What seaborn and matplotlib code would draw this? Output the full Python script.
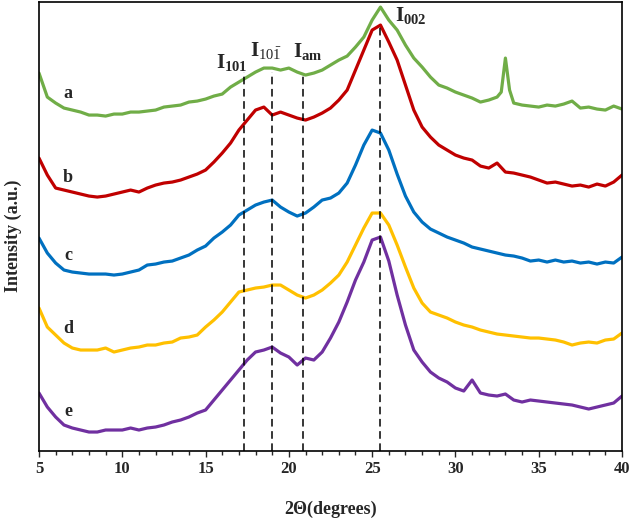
import numpy as np
import pandas as pd
import seaborn as sns
import matplotlib.pyplot as plt

# 2-theta grid (degrees), 0.5 deg steps
two_theta = np.arange(5.0, 40.01, 0.5)
# sample a has a narrow extra peak at 33 deg, so it gets a few extra points
two_theta_a = np.concatenate([np.arange(5.0, 32.51, 0.5), [32.75, 33.0, 33.25], np.arange(33.5, 40.01, 0.5)])

# intensities (a.u., stacked as in the figure)
int_a = [378, 354, 348, 343, 341, 339, 336, 336, 335, 337, 337, 339, 339, 340, 341, 344,
         345, 346, 349, 350, 352, 355, 357, 364, 369, 374, 379, 383, 383, 381, 383, 379,
         376, 378, 381, 386, 391, 395, 404, 414, 431, 444, 431, 421, 406, 393, 384, 374,
         366, 363, 359, 356, 353, 349, 351, 354, 359, 393, 361, 348, 346, 345, 344, 346,
         345, 347, 350, 343, 344, 342, 341, 345, 342]
int_b = [293, 276, 263, 261, 259, 257, 255, 254, 255, 257, 259, 261, 259, 263, 266, 268,
         269, 271, 274, 277, 281, 289, 298, 308, 321, 331, 341, 344, 336, 339, 336, 333,
         331, 334, 338, 343, 351, 361, 381, 401, 421, 426, 409, 391, 366, 341, 324, 314,
         306, 301, 296, 293, 291, 285, 283, 288, 279, 278, 276, 274, 271, 268, 269, 267,
         265, 266, 264, 267, 265, 269, 276]
int_c = [213, 198, 188, 181, 179, 178, 177, 177, 177, 176, 177, 179, 181, 186, 187, 189,
         190, 193, 196, 201, 205, 213, 219, 226, 236, 241, 246, 249, 251, 244, 239, 235,
         238, 244, 251, 253, 258, 268, 286, 306, 321, 318, 301, 277, 255, 239, 229, 222,
         218, 214, 211, 208, 204, 202, 200, 198, 196, 195, 193, 190, 191, 189, 191, 189,
         190, 188, 189, 187, 189, 188, 194]
int_d = [143, 124, 116, 108, 103, 101, 101, 101, 103, 99, 101, 103, 104, 106, 106, 108,
         109, 113, 114, 116, 124, 131, 139, 149, 159, 161, 163, 164, 166, 166, 161, 156,
         153, 156, 161, 168, 176, 189, 206, 223, 238, 238, 226, 206, 184, 163, 148, 139,
         136, 133, 129, 126, 124, 121, 119, 117, 116, 115, 114, 113, 113, 112, 111, 109,
         106, 108, 109, 108, 111, 112, 118]
int_e = [58, 44, 34, 26, 23, 21, 19, 19, 21, 21, 21, 23, 21, 23, 24, 26,
         29, 31, 34, 38, 41, 51, 61, 71, 81, 91, 99, 101, 104, 98, 94, 86,
         93, 91, 99, 113, 129, 149, 171, 189, 211, 214, 190, 156, 126, 101, 89, 79,
         73, 69, 63, 60, 71, 58, 56, 55, 57, 51, 49, 51, 50, 49, 48, 47,
         46, 44, 42, 44, 46, 48, 55]

samples = ['a', 'b', 'c', 'd', 'e']
colors = ['#70AD47', '#C00000', '#0070C0', '#FFC000', '#7030A0']
label_y = [358, 274, 196, 123, 40]

peak_pos = [17.3, 19.0, 20.85, 25.45]
peak_top = [379, 379, 378, 426]
peak_names = [r'$\mathbf{I_{101}}$', r'$\mathbf{I}_{10\bar{1}}$', r'$\mathbf{I_{am}}$', r'$\mathbf{I_{002}}$']
peak_label_x = [16.6, 18.65, 21.15, 27.3]
peak_label_y = [389, 401, 400, 436]

# long dataframe for seaborn
frames = []
for s, x, y in zip(samples, [two_theta_a, two_theta, two_theta, two_theta, two_theta],
                   [int_a, int_b, int_c, int_d, int_e]):
    frames.append(pd.DataFrame({'two_theta': x, 'intensity': y, 'sample': s}))
df = pd.concat(frames, ignore_index=True)

sns.set_style('white')
plt.rcParams['font.family'] = ['Liberation Serif', 'DejaVu Serif']
plt.rcParams['mathtext.fontset'] = 'custom'
plt.rcParams['mathtext.rm'] = 'Liberation Serif'
plt.rcParams['mathtext.bf'] = 'Liberation Serif:bold'
plt.rcParams['mathtext.it'] = 'Liberation Serif:italic'

fig = plt.figure(figsize=(6.32, 5.19), dpi=100)
ax = fig.add_axes([0.0617, 0.131, 0.9225, 0.865])

sns.lineplot(data=df, x='two_theta', y='intensity', hue='sample', palette=colors,
             linewidth=2.3, legend=False, estimator=None, sort=True, ax=ax)

# dashed reference lines for the peaks
for xp, top in zip(peak_pos, peak_top):
    ax.plot([xp, xp], [0, top], color='black', linestyle=(0, (5, 3)), linewidth=1.1, zorder=5)

for name, xl, yl in zip(peak_names, peak_label_x, peak_label_y):
    ax.text(xl, yl, name, fontsize=15, ha='center', va='center')

for s, yl in zip(samples, label_y):
    ax.text(6.75, yl, s, fontsize=13, fontweight='bold', ha='center', va='center')

ax.set_xlim(5, 40)
ax.set_ylim(0, 449)
ax.set_xticks(np.arange(5, 41, 5))
ax.set_xticks(np.arange(5, 41, 1), minor=True)
ax.set_yticks([])
ax.tick_params(axis='x', which='major', direction='out', length=4, width=1, labelsize=12, bottom=True)
ax.tick_params(axis='x', which='minor', direction='out', length=3, width=1, bottom=True)
for lab in ax.get_xticklabels():
    lab.set_fontweight('bold')

for sp in ax.spines.values():
    sp.set_color('black')
    sp.set_linewidth(1.2)

ax.set_xlabel('2\u0398(degrees)', fontsize=13, fontweight='bold')
ax.set_ylabel('Intensity (a.u.)', fontsize=13, fontweight='bold')
ax.xaxis.set_label_coords(0.5, -0.11)
ax.yaxis.set_label_coords(-0.029, 0.48)

fig.savefig('out.png', dpi=100)
